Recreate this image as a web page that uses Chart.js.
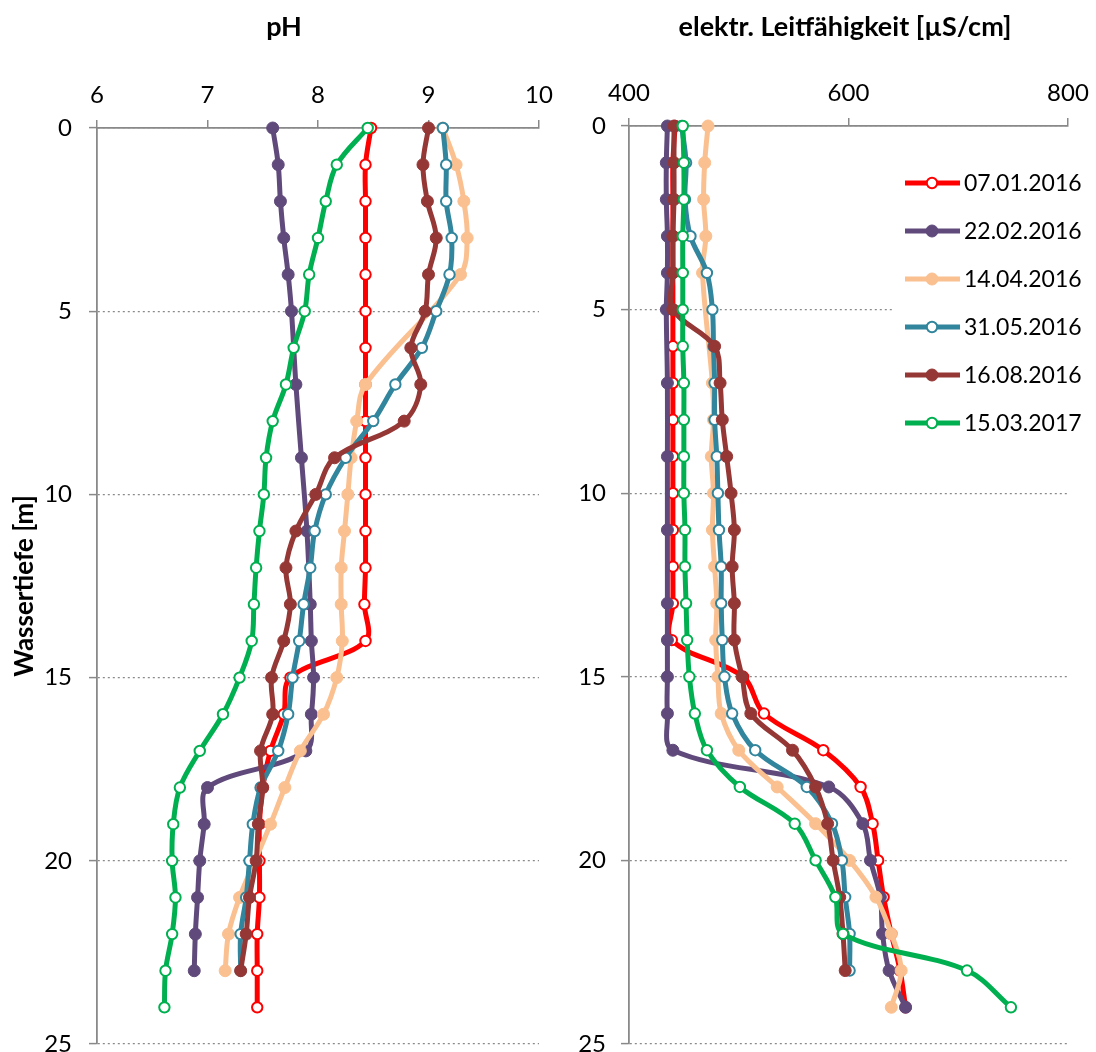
<!DOCTYPE html>
<html>
<head>
<meta charset="utf-8">
<script src="https://cdn.jsdelivr.net/npm/chart.js"></script>
<style>
html, body { margin: 0; padding: 0; background: #fff; }
#wrap { position: relative; width: 1096px; height: 1052px; overflow: hidden; }
canvas { position: absolute; top: 0; }
</style>
</head>
<body>
<div id="wrap">
  <canvas id="phChart" width="570" height="1052" style="left:0"></canvas>
  <canvas id="lfChart" width="548" height="1052" style="left:548px"></canvas>
</div>
<script>
// Wassertiefe [m]
var depths = [0, 1, 2, 3, 4, 5, 6, 7, 8, 9, 10, 11, 12, 13, 14, 15, 16, 17, 18, 19, 20, 21, 22, 23, 24];
var seriesLabels = ['07.01.2016', '22.02.2016', '14.04.2016', '31.05.2016', '16.08.2016', '15.03.2017'];

// pH  (null = no measurement at that depth)
var ph0701 = [8.48, 8.43, 8.43, 8.43, 8.43, 8.43, 8.43, 8.43, 8.43, 8.43, 8.43, 8.43, 8.43, 8.42, 8.43, 7.75, 7.69, 7.57, 7.50, 7.47, 7.47, 7.47, 7.45, 7.45, 7.45];
var ph2202 = [7.59, 7.64, 7.66, 7.69, 7.73, 7.76, null, 7.80, null, 7.85, null, 7.90, null, 7.93, 7.94, 7.96, 7.94, 7.89, 7.00, 6.97, 6.93, 6.91, 6.89, 6.88];
var ph1404 = [9.13, 9.25, 9.32, 9.35, 9.29, null, null, 8.43, 8.35, 8.30, 8.27, 8.24, 8.21, 8.21, 8.22, 8.17, 8.05, 7.84, 7.70, 7.57, 7.43, 7.29, 7.19, 7.16];
var ph3105 = [9.13, 9.16, 9.16, 9.21, 9.19, 9.07, 8.94, 8.70, 8.50, 8.25, 8.07, 7.97, 7.93, 7.87, 7.83, 7.77, 7.73, 7.64, 7.48, 7.41, 7.38, 7.35, 7.30, 7.30];
var ph1608 = [9.00, 8.95, 8.99, 9.07, 9.00, 8.97, 8.84, 8.93, 8.78, 8.15, 7.98, 7.80, 7.71, 7.75, 7.69, 7.58, 7.59, 7.48, 7.50, 7.46, 7.44, 7.38, 7.35, 7.30];
var ph1503 = [8.45, 8.17, 8.07, 8.00, 7.92, 7.88, 7.78, 7.71, 7.59, 7.53, 7.51, 7.47, 7.44, 7.42, 7.40, 7.29, 7.14, 6.93, 6.75, 6.69, 6.68, 6.71, 6.68, 6.62, 6.61];

// elektr. Leitfaehigkeit [uS/cm]
var lf0701 = [442, 440, 440, 440, 440, 440, 440, 440, 440, 440, 440, 440, 440, 440, 439, 504, 523, 577, 611, 622, 627, 632, 639, 647, 652];
var lf2202 = [435, 434, 434, 435, 435, 434, null, 435, null, 435, null, 435, null, 435, 435, 435, 435, 440, 582, 613, 620, 629, 631, 637, 652];
var lf1404 = [472, 469, 468, 470, 467, null, null, 476, 477, 475, 477, 476, 478, 480, 479, 481, 484, 500, 535, 570, 601, 625, 639, 648, 639];
var lf3105 = [448, 452, 451, 456, 471, 476, 477, 478, 478, 480, 481, 482, 484, 484, 485, 487, 494, 515, 562, 585, 594, 597, 601, 601];
var lf1608 = [441, 441, 441, 440, 440, 440, 478, 483, 485, 489, 493, 496, 494, 496, 496, 503, 511, 549, 570, 581, 586, 592, 595, 597];
var lf1503 = [449, 450, 450, 449, 449, 449, 449, 450, 450, 450, 450, 451, 451, 452, 453, 455, 460, 471, 501, 551, 570, 588, 595, 708, 748];

var seriesColors = ['#FF0000', '#604A7B', '#FAC090', '#31859C', '#953735', '#00B050'];
var hollowMarker = [true, false, false, true, false, true];
var FONT = 'Lato';
var AXIS = '#898989';

function buildDatasets(valueLists) {
    return valueLists.map(function (vals, i) {
        return {
            label: seriesLabels[i],
            data: vals.map(function (v, k) { return { x: v, y: depths[k] }; })
                      .filter(function (p) { return p.x !== null; }),
            showLine: true,
            borderColor: seriesColors[i],
            borderWidth: 5,
            tension: 0.35,
            pointRadius: hollowMarker[i] ? 5.2 : 6,
            pointBorderWidth: hollowMarker[i] ? 2 : 1,
            pointBorderColor: seriesColors[i],
            pointBackgroundColor: hollowMarker[i] ? '#FFFFFF' : seriesColors[i],
            order: valueLists.length - i,   // later series on top, like the original
            clip: false
        };
    });
}

// panel title drawn at a fixed spot above the axis
var panelTitle = {
    id: 'panelTitle',
    afterDraw: function (chart, args, o) {
        var ctx = chart.ctx;
        ctx.save();
        ctx.font = 'bold 27px ' + FONT;
        ctx.fillStyle = '#000';
        ctx.textAlign = 'center';
        ctx.textBaseline = 'middle';
        ctx.fillText(o.text, o.x, o.y);
        ctx.restore();
    }
};

// legend sitting inside the plot area, right side
var insetLegend = {
    id: 'insetLegend',
    afterDraw: function (chart, args, o) {
        if (!o.display) return;
        var ctx = chart.ctx;
        ctx.save();
        ctx.fillStyle = '#fff';
        ctx.fillRect(o.x, o.y, o.w, o.h);
        chart.data.datasets.forEach(function (ds, i) {
            var cy = o.y + o.first + i * o.step;
            ctx.strokeStyle = ds.borderColor;
            ctx.lineWidth = ds.borderWidth;
            ctx.beginPath();
            ctx.moveTo(o.x + 12, cy);
            ctx.lineTo(o.x + 67, cy);
            ctx.stroke();
            ctx.beginPath();
            ctx.arc(o.x + 39, cy, ds.pointRadius, 0, Math.PI * 2);
            ctx.fillStyle = ds.pointBackgroundColor;
            ctx.fill();
            ctx.lineWidth = ds.pointBorderWidth;
            ctx.strokeStyle = ds.pointBorderColor;
            ctx.stroke();
            ctx.fillStyle = '#000';
            ctx.font = '23px ' + FONT;
            ctx.textAlign = 'left';
            ctx.textBaseline = 'middle';
            ctx.fillText(ds.label, o.x + 71, cy + 1);
        });
        ctx.restore();
    }
};

function chartOptions(cfg) {
    return {
        responsive: false,
        animation: false,
        layout: { padding: { left: 0, right: cfg.padRight, top: 0, bottom: 8 } },
        plugins: {
            legend: { display: false },
            tooltip: { enabled: false },
            title: { display: false },
            panelTitle: cfg.title,
            insetLegend: cfg.legend || { display: false }
        },
        scales: {
            x: {
                type: 'linear',
                position: 'top',
                min: cfg.xMin,
                max: cfg.xMax,
                ticks: { stepSize: cfg.xStep, color: '#000', font: { family: FONT, size: 24 }, padding: 10 },
                grid: { drawOnChartArea: false, drawTicks: true, tickLength: 8, color: AXIS, lineWidth: 1.5 },
                border: { color: AXIS, width: 1.8 },
                afterFit: function (s) {
                    s.height = cfg.top;
                    s.paddingLeft = 0;
                    s.paddingRight = 0;
                }
            },
            y: {
                type: 'linear',
                reverse: true,
                min: 0,
                max: 25,
                ticks: { stepSize: 5, color: '#000', font: { family: FONT, size: 24 }, padding: cfg.yPad },
                grid: { color: AXIS, lineWidth: 1.2, tickLength: 8, tickBorderDash: [], tickWidth: 1.5 },
                border: { color: AXIS, width: 1.8, dash: [2, 3] },
                title: cfg.yTitle ? {
                    display: true,
                    text: cfg.yTitle,
                    color: '#000',
                    font: { family: FONT, size: 26, weight: 'bold' },
                    padding: { top: 9, bottom: 0 }
                } : { display: false },
                afterFit: function (s) {
                    s.width = cfg.left;
                    s.paddingTop = 0;
                    s.paddingBottom = 0;
                }
            }
        }
    };
}

new Chart(document.getElementById('phChart').getContext('2d'), {
    type: 'scatter',
    data: { datasets: buildDatasets([ph0701, ph2202, ph1404, ph3105, ph1608, ph1503]) },
    options: chartOptions({
        xMin: 6, xMax: 10, xStep: 1,
        left: 97, top: 128, padRight: 31, yPad: 17,
        yTitle: 'Wassertiefe [m]',
        title: { text: 'pH', x: 284, y: 27 }
    }),
    plugins: [panelTitle]
});

new Chart(document.getElementById('lfChart').getContext('2d'), {
    type: 'scatter',
    data: { datasets: buildDatasets([lf0701, lf2202, lf1404, lf3105, lf1608, lf1503]) },
    options: chartOptions({
        xMin: 400, xMax: 800, xStep: 200,
        left: 81, top: 126, padRight: 28, yPad: 15,
        title: { text: 'elektr. Leitfähigkeit [µS/cm]', x: 297, y: 27 },
        legend: { display: true, x: 345, y: 155, w: 203, h: 292, first: 28, step: 48 }
    }),
    plugins: [panelTitle, insetLegend]
});
</script>
</body>
</html>
